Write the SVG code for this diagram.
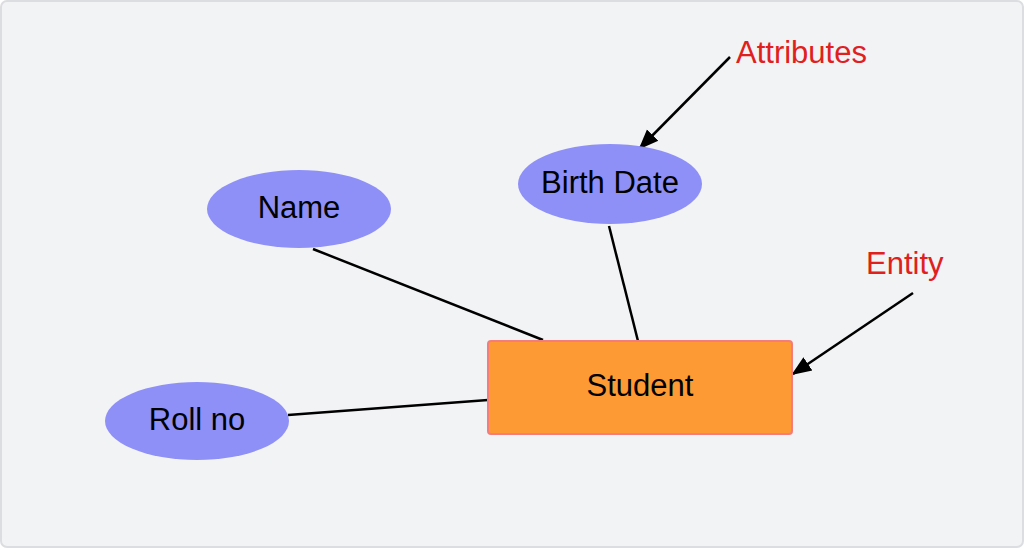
<svg xmlns="http://www.w3.org/2000/svg" width="1024" height="548" viewBox="0 0 1024 548">
<style>
.attr{fill:#8f8ff8}
.t{font-family:"Liberation Sans",Arial,sans-serif;font-size:31px;fill:#000;text-anchor:middle}
.r{font-family:"Liberation Sans",Arial,sans-serif;font-size:31px;fill:#e0201c}
.c{stroke:#000;stroke-width:2.5;fill:none}
</style>
<defs><marker id="ah" markerWidth="10" markerHeight="10" refX="9" refY="5" orient="auto" markerUnits="userSpaceOnUse" viewBox="0 0 10 10"><path d="M0,0 L10,5 L0,10 z" fill="#000"/></marker>
<marker id="ah2" markerWidth="20" markerHeight="20" refX="18" refY="10" orient="auto" markerUnits="userSpaceOnUse" viewBox="0 0 20 20"><path d="M0,2 L20,10 L0,18 z" fill="#000"/></marker></defs>
<rect x="1" y="1" width="1022" height="546" rx="6" fill="#f2f3f5" stroke="#dcdde0" stroke-width="2"/>
<g id="connectors">
<line class="c" x1="313" y1="249" x2="543" y2="340"/>
<line class="c" x1="609" y1="226" x2="638" y2="341"/>
<line class="c" x1="288" y1="415" x2="488" y2="400"/>
<line class="c" x1="730" y1="57" x2="640" y2="148" marker-end="url(#ah2)"/>
<line class="c" x1="913" y1="293" x2="793" y2="374" marker-end="url(#ah2)"/>
</g>
<g id="name"><ellipse class="attr" cx="299" cy="209" rx="92" ry="39"/><text class="t" x="299" y="218">Name</text></g>
<g id="birthdate"><ellipse class="attr" cx="610" cy="184" rx="92" ry="40"/><text class="t" x="610" y="193">Birth Date</text></g>
<g id="rollno"><ellipse class="attr" cx="197" cy="421" rx="92" ry="39"/><text class="t" x="197" y="430">Roll no</text></g>
<g id="student"><rect x="488" y="341" width="304" height="93" rx="3" fill="#fd9a33" stroke="#f47c7c" stroke-width="2"/><text class="t" x="640" y="396">Student</text></g>
<g id="labels"><text class="r" x="736" y="63">Attributes</text><text class="r" x="866" y="274">Entity</text></g>
</svg>
